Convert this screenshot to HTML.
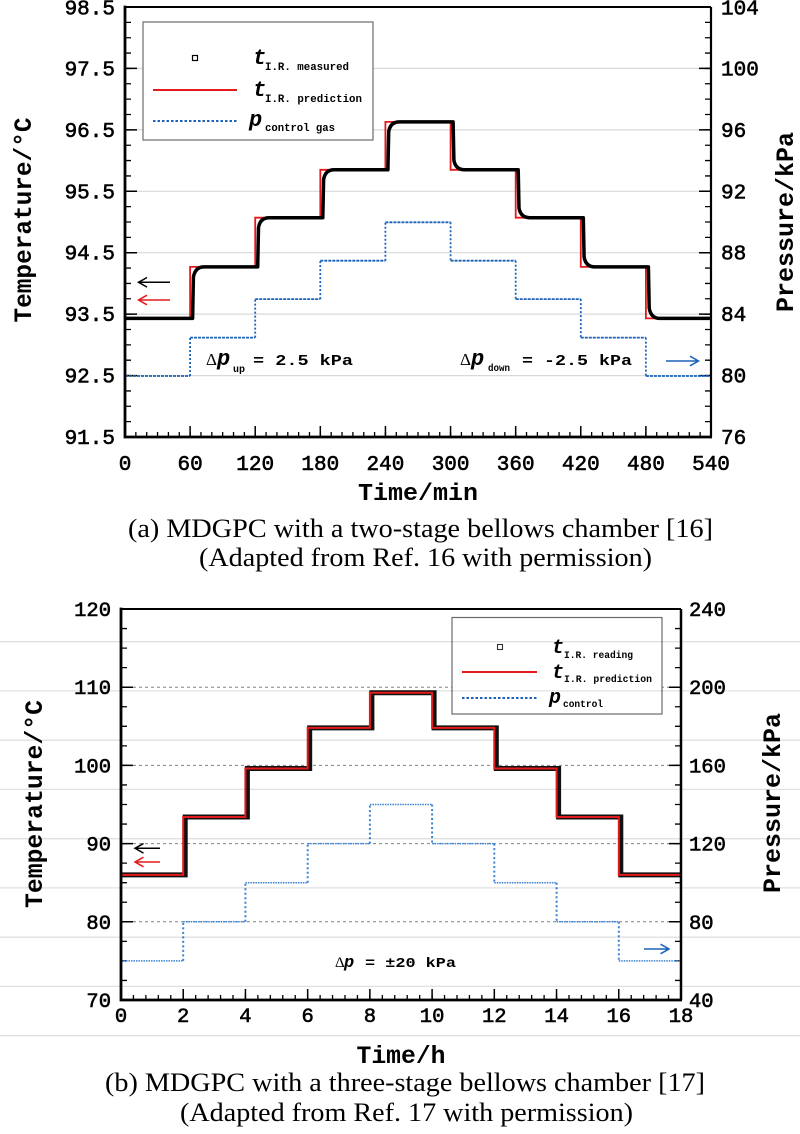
<!DOCTYPE html>
<html><head><meta charset="utf-8"><style>
html,body{margin:0;padding:0;background:#fff}
svg{display:block}
.m{font-family:"Liberation Mono",monospace}
.s{font-family:"Liberation Serif",serif}
</style></head><body>
<svg width="800" height="1134" viewBox="0 0 800 1134" xmlns="http://www.w3.org/2000/svg">
<rect width="800" height="1134" fill="#fff"/>

<!-- ================= TOP CHART ================= -->
<g stroke="#d9d9d9" stroke-width="1.2" fill="none">
<path d="M125,68.4H711M125,129.9H711M125,191.3H711M125,252.7H711M125,314.1H711M125,375.6H711"/>
</g>

<g stroke="#000" fill="none">
<line x1="128" y1="6.35" x2="128" y2="438" stroke-width="6" stroke-dasharray="1.3 14.057"/>
<line x1="131" y1="6.25" x2="131" y2="438.5" stroke-width="12" stroke-dasharray="1.5 59.93"/>
<line x1="708" y1="6.35" x2="708" y2="438" stroke-width="6" stroke-dasharray="1.3 14.057"/>
<line x1="705" y1="6.25" x2="705" y2="438.5" stroke-width="12" stroke-dasharray="1.5 59.93"/>
<line x1="124.35" y1="434.5" x2="712" y2="434.5" stroke-width="5" stroke-dasharray="1.3 9.552"/>
<line x1="124.25" y1="431.5" x2="712" y2="431.5" stroke-width="11" stroke-dasharray="1.5 63.61"/>
</g>

<path d="M125,376H190.1M190.1,337.6H255.2M255.2,299.1H320.3M320.3,260.7H385.4M385.4,222.3H450.6M450.6,260.7H515.7M515.7,299.1H580.8M580.8,337.6H645.9M645.9,376H711" stroke="#1b62b8" stroke-width="1.8" stroke-dasharray="3 1" fill="none"/>
<path d="M190.1,376V337.6M255.2,337.6V299.1M320.3,299.1V260.7M385.4,260.7V222.3M450.6,222.3V260.7M515.7,260.7V299.1M580.8,299.1V337.6M645.9,337.6V376" stroke="#1b62b8" stroke-width="1.8" stroke-dasharray="2 2" fill="none"/>

<path d="M125,318.4H190.1V266.9H255.2V217.7H320.3V169.8H385.4V121.9H450.6V169.8H515.7V217.7H580.8V266.9H645.9V318.4H711" fill="none" stroke="#e41a1c" stroke-width="1.8"/>

<path d="M125,318.4H192.6L193.4,277.2Q195.1,266.9 204.1,266.9H257.7L258.5,227.5Q260.2,217.7 269.2,217.7H322.8L323.6,179.4Q325.3,169.8 334.3,169.8H387.9L388.7,131.5Q390.4,121.9 399.4,121.9H453.1L453.9,160.2Q455.6,169.8 464.6,169.8H518.2L519,208.1Q520.7,217.7 529.7,217.7H583.3L584.1,257.1Q585.8,266.9 594.8,266.9H648.4L649.2,308.1Q650.9,318.4 659.9,318.4H711" fill="none" stroke="#000" stroke-width="3.5" stroke-linejoin="round"/>

<g stroke="#000" fill="none">
<path d="M125,7H711" stroke-width="2"/>
<path d="M711,7V437" stroke-width="2.2"/>
<path d="M125,5.6V438.4M123.6,437H712" stroke-width="2.8"/>
</g>

<rect x="143" y="22" width="230" height="118" fill="#fff" stroke="#6b6b6b" stroke-width="1.2"/>
<rect x="192.5" y="55.5" width="5" height="5" fill="none" stroke="#000" stroke-width="1.2"/>
<text x="253" y="64" class="m" font-size="22" font-style="italic" font-weight="bold">t</text>
<text x="265" y="70" class="m" font-size="11" font-weight="bold" textLength="84" lengthAdjust="spacingAndGlyphs">I.R. measured</text>
<path d="M153,90H237" stroke="#e41a1c" stroke-width="2"/>
<text x="253" y="96" class="m" font-size="22" font-style="italic" font-weight="bold">t</text>
<text x="265" y="102" class="m" font-size="11" font-weight="bold" textLength="97" lengthAdjust="spacingAndGlyphs">I.R. prediction</text>
<path d="M153,121H237" stroke="#1b62b8" stroke-width="2" stroke-dasharray="2.5 2"/>
<text x="249" y="126" class="m" font-size="22" font-style="italic" font-weight="bold">p</text>
<text x="265" y="131" class="m" font-size="11" font-weight="bold" textLength="70" lengthAdjust="spacingAndGlyphs">control gas</text>

<g fill="none" stroke-width="1.5">
<path d="M170,282.3H139M147,277.5L138.5,282.3L147,287.1" stroke="#000"/>
<path d="M170,300H139M147,295.2L138.5,300L147,304.8" stroke="#e41a1c"/>
<path d="M666,361H698M690,356.2L698.5,361L690,365.8" stroke="#1b62b8"/>
</g>

<text x="206" y="365" class="s" font-size="17">Δ</text>
<text x="217" y="365" class="m" font-size="22" font-style="italic" font-weight="bold">p</text>
<text x="233" y="372" class="m" font-size="10" font-weight="bold">up</text>
<text x="253" y="365" class="m" font-size="15" font-weight="bold" textLength="100" lengthAdjust="spacingAndGlyphs">= 2.5 kPa</text>
<text x="460" y="365" class="s" font-size="17">Δ</text>
<text x="471" y="365" class="m" font-size="22" font-style="italic" font-weight="bold">p</text>
<text x="488" y="371" class="m" font-size="10" font-weight="bold" textLength="22" lengthAdjust="spacingAndGlyphs">down</text>
<text x="522" y="365" class="m" font-size="15" font-weight="bold" textLength="110" lengthAdjust="spacingAndGlyphs">= -2.5 kPa</text>

<g class="m" font-size="21" stroke="#000" stroke-width="0.6" text-anchor="end">
<text x="115" y="14.5">98.5</text>
<text x="115" y="75.4">97.5</text>
<text x="115" y="136.9">96.5</text>
<text x="115" y="198.3">95.5</text>
<text x="115" y="259.7">94.5</text>
<text x="115" y="321.1">93.5</text>
<text x="115" y="382.6">92.5</text>
<text x="115" y="444">91.5</text>
</g>
<g class="m" font-size="21" stroke="#000" stroke-width="0.6" text-anchor="start">
<text x="721" y="14.5">104</text>
<text x="721" y="75.4">100</text>
<text x="721" y="136.9">96</text>
<text x="721" y="198.3">92</text>
<text x="721" y="259.7">88</text>
<text x="721" y="321.1">84</text>
<text x="721" y="382.6">80</text>
<text x="721" y="444">76</text>
</g>
<g class="m" font-size="21" stroke="#000" stroke-width="0.6" text-anchor="middle">
<text x="125" y="470">0</text>
<text x="190.1" y="470">60</text>
<text x="255.2" y="470">120</text>
<text x="320.3" y="470">180</text>
<text x="385.4" y="470">240</text>
<text x="450.6" y="470">300</text>
<text x="515.7" y="470">360</text>
<text x="580.8" y="470">420</text>
<text x="645.9" y="470">480</text>
<text x="711" y="470">540</text>
</g>

<text x="418" y="500" class="m" font-size="24" font-weight="bold" text-anchor="middle" textLength="120" lengthAdjust="spacingAndGlyphs">Time/min</text>
<text transform="translate(31,220) rotate(-90)" class="m" font-size="25" font-weight="bold" text-anchor="middle" textLength="205" lengthAdjust="spacingAndGlyphs">Temperature/°C</text>
<text transform="translate(793,222) rotate(-90)" class="m" font-size="25" font-weight="bold" text-anchor="middle" textLength="180" lengthAdjust="spacingAndGlyphs">Pressure/kPa</text>

<text x="128" y="537" class="s" font-size="26" textLength="585" lengthAdjust="spacingAndGlyphs">(a) MDGPC with a two-stage bellows chamber [16]</text>
<text x="199" y="566" class="s" font-size="26" textLength="453" lengthAdjust="spacingAndGlyphs">(Adapted from Ref. 16 with permission)</text>

<!-- ================= BOTTOM CHART ================= -->
<g stroke="#808080" stroke-width="1" stroke-dasharray="3 3" fill="none">
<path d="M121,687.2H681M121,765.4H681M121,843.6H681M121,921.8H681"/>
</g>

<g stroke="#000" fill="none">
<line x1="124" y1="608.35" x2="124" y2="1001" stroke-width="6" stroke-dasharray="1.3 18.25"/>
<line x1="127" y1="608.25" x2="127" y2="1001" stroke-width="12" stroke-dasharray="1.5 76.7"/>
<line x1="678" y1="608.35" x2="678" y2="1001" stroke-width="6" stroke-dasharray="1.3 18.25"/>
<line x1="675" y1="608.25" x2="675" y2="1001" stroke-width="12" stroke-dasharray="1.5 76.7"/>
<line x1="120.35" y1="997.5" x2="682" y2="997.5" stroke-width="5" stroke-dasharray="1.3 11.144"/>
<line x1="120.25" y1="994.5" x2="682" y2="994.5" stroke-width="11" stroke-dasharray="1.5 60.72"/>
</g>

<path d="M121,960.9H183.2M183.2,921.8H245.4M245.4,882.7H307.7M307.7,843.6H369.9M369.9,804.5H432.1M432.1,843.6H494.3M494.3,882.7H556.6M556.6,921.8H618.8M618.8,960.9H681" stroke="#3a82d4" stroke-width="1.5" stroke-dasharray="1.5 1" fill="none"/>
<path d="M183.2,960.9V921.8M245.4,921.8V882.7M307.7,882.7V843.6M369.9,843.6V804.5M432.1,804.5V843.6M494.3,843.6V882.7M556.6,882.7V921.8M618.8,921.8V960.9" stroke="#3a82d4" stroke-width="2" stroke-dasharray="2 2.5" fill="none"/>

<path d="M121,874.9H185.2V817H247.4V768.5H309.7V727.9H371.9V692.7H434.1V727.9H496.3V768.5H558.6V817H620.8V874.9H681" fill="none" stroke="#111" stroke-width="5"/>
<path d="M121,874.9H183.2V817H245.4V768.5H307.7V727.9H369.9V692.7H432.1V727.9H494.3V768.5H556.6V817H618.8V874.9H681" fill="none" stroke="#e41a1c" stroke-width="2"/>

<g stroke="#000" fill="none">
<path d="M121,609H681" stroke-width="2"/>
<path d="M681,609V1000" stroke-width="2.5"/>
<path d="M121,607.6V1001.4M119.6,1000H682" stroke-width="2.8"/>
</g>

<rect x="452" y="617.5" width="210" height="96.5" fill="#fff" stroke="#6b6b6b" stroke-width="1.2"/>
<rect x="497.5" y="644.5" width="5" height="5" fill="none" stroke="#333" stroke-width="1.1"/>
<text x="552" y="653" class="m" font-size="20" font-style="italic" font-weight="bold">t</text>
<text x="564" y="658" class="m" font-size="10" font-weight="bold" textLength="69" lengthAdjust="spacingAndGlyphs">I.R. reading</text>
<path d="M462,672H537" stroke="#e41a1c" stroke-width="2"/>
<text x="552" y="678" class="m" font-size="20" font-style="italic" font-weight="bold">t</text>
<text x="564" y="682" class="m" font-size="10" font-weight="bold" textLength="88" lengthAdjust="spacingAndGlyphs">I.R. prediction</text>
<path d="M462,698H537" stroke="#1b62b8" stroke-width="2" stroke-dasharray="2.5 2"/>
<text x="549" y="703" class="m" font-size="20" font-style="italic" font-weight="bold">p</text>
<text x="563" y="707" class="m" font-size="10" font-weight="bold" textLength="40" lengthAdjust="spacingAndGlyphs">control</text>

<g fill="none" stroke-width="1.5">
<path d="M160,848.3H136M143.5,843.5L135,848.3L143.5,853.1" stroke="#000"/>
<path d="M160,862H136M143.5,857.2L135,862L143.5,866.8" stroke="#e41a1c"/>
<path d="M644,949H668M660.5,944.2L669,949L660.5,953.8" stroke="#1b62b8"/>
</g>

<text x="335" y="967" class="s" font-size="15">Δ</text>
<text x="344" y="967" class="m" font-size="17" font-style="italic" font-weight="bold">p</text>
<text x="365" y="967" class="m" font-size="14" font-weight="bold" textLength="91" lengthAdjust="spacingAndGlyphs">= ±20 kPa</text>

<g class="m" font-size="20.5" stroke="#000" stroke-width="0.6" text-anchor="end">
<text x="111" y="616">120</text>
<text x="111" y="694.2">110</text>
<text x="111" y="772.4">100</text>
<text x="111" y="850.6">90</text>
<text x="111" y="928.8">80</text>
<text x="111" y="1007">70</text>
</g>
<g class="m" font-size="20.5" stroke="#000" stroke-width="0.6" text-anchor="start">
<text x="689" y="616">240</text>
<text x="689" y="694.2">200</text>
<text x="689" y="772.4">160</text>
<text x="689" y="850.6">120</text>
<text x="689" y="928.8">80</text>
<text x="689" y="1007">40</text>
</g>
<g class="m" font-size="20.5" stroke="#000" stroke-width="0.6" text-anchor="middle">
<text x="121" y="1022">0</text>
<text x="183.2" y="1022">2</text>
<text x="245.4" y="1022">4</text>
<text x="307.7" y="1022">6</text>
<text x="369.9" y="1022">8</text>
<text x="432.1" y="1022">10</text>
<text x="494.3" y="1022">12</text>
<text x="556.6" y="1022">14</text>
<text x="618.8" y="1022">16</text>
<text x="681" y="1022">18</text>
</g>

<text x="401" y="1063" class="m" font-size="25" font-weight="bold" text-anchor="middle" textLength="89" lengthAdjust="spacingAndGlyphs">Time/h</text>
<text transform="translate(42,804) rotate(-90)" class="m" font-size="25" font-weight="bold" text-anchor="middle" textLength="208" lengthAdjust="spacingAndGlyphs">Temperature/°C</text>
<text transform="translate(780,803) rotate(-90)" class="m" font-size="25" font-weight="bold" text-anchor="middle" textLength="180" lengthAdjust="spacingAndGlyphs">Pressure/kPa</text>

<text x="105" y="1091" class="s" font-size="26" textLength="600" lengthAdjust="spacingAndGlyphs">(b) MDGPC with a three-stage bellows chamber [17]</text>
<text x="180" y="1121" class="s" font-size="26" textLength="453" lengthAdjust="spacingAndGlyphs">(Adapted from Ref. 17 with permission)</text>

<g stroke="#e0e0e0" stroke-width="1.3" style="mix-blend-mode:multiply">
<path d="M0,641.7H800M0,690.9H800M0,740.2H800M0,789.4H800M0,838.7H800M0,887.9H800M0,937.2H800M0,986.4H800M0,1035.7H800"/>
</g>
</svg>
</body></html>
